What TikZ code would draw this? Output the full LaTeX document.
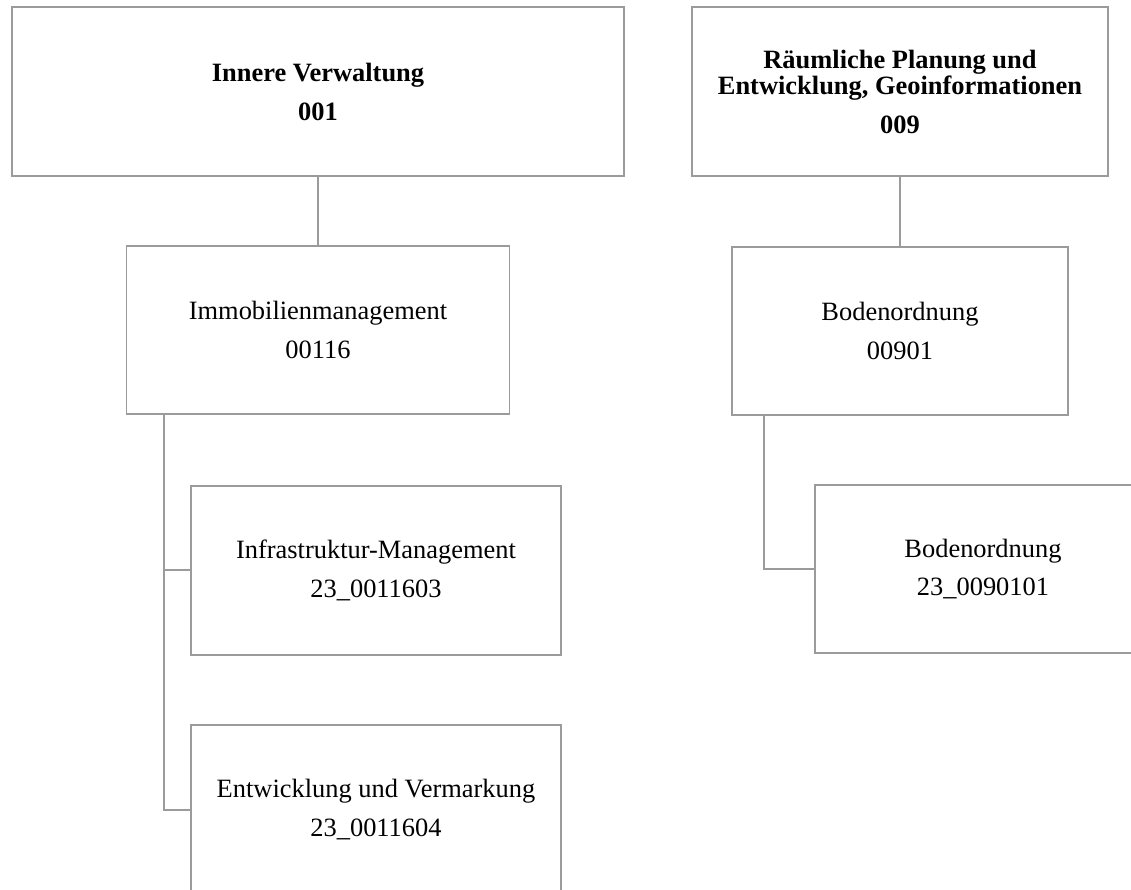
\documentclass[tikz,border=0pt]{standalone}
\usepackage{fontspec}
\setmainfont{Liberation Serif}
\usepackage{tikz}
\usetikzlibrary{positioning}
\definecolor{orgline}{RGB}{155,155,155}

\begin{document}
\begin{tikzpicture}[
box/.style={draw=orgline,line width=1.4pt,rectangle,align=center,minimum height=4.22cm,inner sep=2pt,
  font=\fontsize{18.8}{27.6}\selectfont},
head/.style={box,font=\bfseries\fontsize{18.8}{18.7}\selectfont}]
\useasboundingbox (0,0) rectangle (28.275,-22.25);
\node[head,minimum width=15.3cm] (IV) at (7.95,-2.29) {Innere Verwaltung\\[8.9pt]001};
\node[head,minimum width=10.4cm] (RP) at (22.5,-2.29) {R\"aumliche Planung und\\Entwicklung, Geoinformationen\\[8.9pt]009};
\node[box,minimum width=9.575cm] (IM) at (7.95,-8.25) {Immobilienmanagement\\00116};
\node[box,minimum width=8.4cm] (BO) at (22.5,-8.275) {Bodenordnung\\00901};
\node[box,minimum width=9.25cm] (IS) at (9.4,-14.26) {Infrastruktur-Management\\23\_0011603};
\node[box,minimum width=9.25cm] (EV) at (9.4,-20.24) {Entwicklung und Vermarkung\\23\_0011604};
\node[box,minimum width=8.4cm] (BN) at (24.575,-14.225) {Bodenordnung\\23\_0090101};
\path[draw=orgline,line width=1.4pt]
(IV) edge (IM)
(RP) edge (BO);
\draw[orgline,line width=1.4pt] ([xshift=0.9625cm]IM.south west) |- (IS.west);
\draw[orgline,line width=1.4pt] ([xshift=0.9625cm]IM.south west) |- (EV.west);
\draw[orgline,line width=1.4pt] ([xshift=0.825cm]BO.south west) |- (BN.west);
\end{tikzpicture}
\end{document}
